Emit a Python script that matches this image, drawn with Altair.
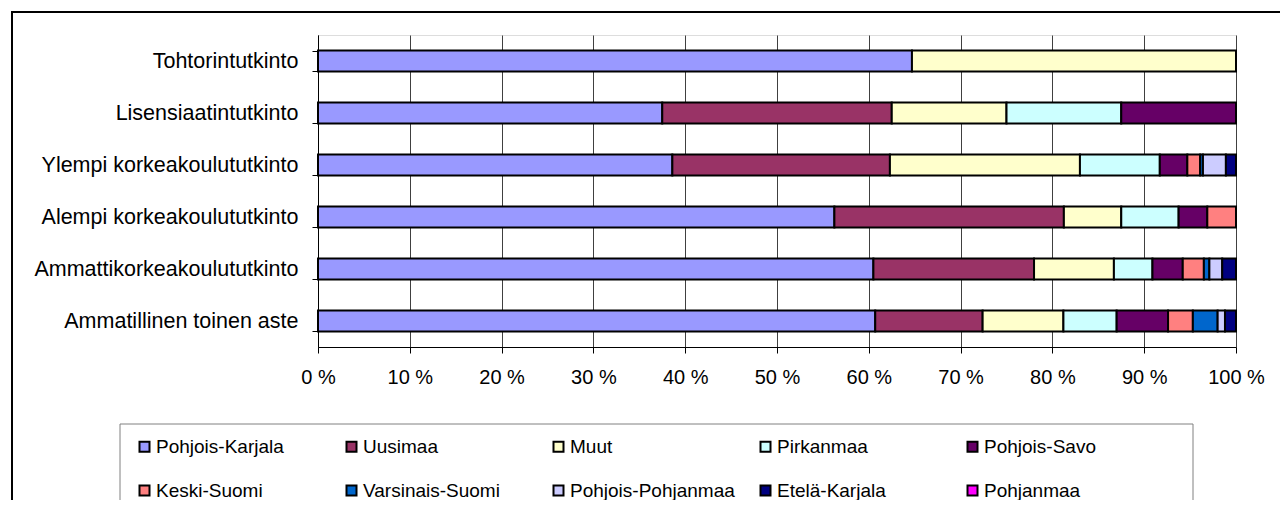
import altair as alt
import pandas as pd

categories = [
    "Tohtorintutkinto",
    "Lisensiaatintutkinto",
    "Ylempi korkeakoulututkinto",
    "Alempi korkeakoulututkinto",
    "Ammattikorkeakoulututkinto",
    "Ammatillinen toinen aste",
]

regions = [
    "Pohjois-Karjala", "Uusimaa", "Muut", "Pirkanmaa", "Pohjois-Savo",
    "Keski-Suomi", "Varsinais-Suomi", "Pohjois-Pohjanmaa", "Etelä-Karjala", "Pohjanmaa",
]

colors = ["#9999FF", "#993366", "#FFFFCC", "#CCFFFF", "#660066",
          "#FF8080", "#0066CC", "#CCCCFF", "#000080", "#FF00FF"]

# percent shares per category (order as in `categories`)
pohjois_karjala   = [64.7, 37.5, 38.6, 56.25, 60.5, 60.7]
uusimaa           = [0.0, 25.0, 23.7, 25.0, 17.5, 11.7]
muut              = [35.3, 12.5, 20.7, 6.25, 8.7, 8.8]
pirkanmaa         = [0.0, 12.5, 8.7, 6.25, 4.2, 5.8]
pohjois_savo      = [0.0, 12.5, 3.0, 3.125, 3.3, 5.6]
keski_suomi       = [0.0, 0.0, 1.4, 3.125, 2.3, 2.7]
varsinais_suomi   = [0.0, 0.0, 0.3, 0.0, 0.6, 2.7]
pohjois_pohjanmaa = [0.0, 0.0, 2.5, 0.0, 1.4, 0.8]
etela_karjala     = [0.0, 0.0, 1.1, 0.0, 1.5, 1.2]
pohjanmaa         = [0.0, 0.0, 0.0, 0.0, 0.0, 0.0]

series = [pohjois_karjala, uusimaa, muut, pirkanmaa, pohjois_savo,
          keski_suomi, varsinais_suomi, pohjois_pohjanmaa, etela_karjala, pohjanmaa]

x_ticks = [0, 0.1, 0.2, 0.3, 0.4, 0.5, 0.6, 0.7, 0.8, 0.9, 1.0]

rows = []
for ri, (reg, vals) in enumerate(zip(regions, series)):
    for cat, v in zip(categories, vals):
        if v > 0:
            rows.append({"tutkinto": cat, "alue": reg, "osuus": v, "jarj": ri})
df = pd.DataFrame(rows)

FONT = "Liberation Sans"

bars = alt.Chart(df).mark_bar(stroke="black", strokeWidth=2).encode(
    y=alt.Y("tutkinto:N", sort=categories, title=None,
            scale=alt.Scale(paddingInner=0.6, paddingOuter=0.3),
            axis=alt.Axis(tickBand="extent", tickSize=6, tickColor="black",
                          domainColor="black", labelFontSize=21.5, labelFont=FONT,
                          labelColor="black", labelPadding=14, grid=False,
                          labelLimit=400)),
    x=alt.X("osuus:Q", stack="normalize", title=None,
            scale=alt.Scale(domain=[0, 1], nice=False),
            axis=alt.Axis(values=x_ticks, labelExpr="format(datum.value*100,'d') + ' %'",
                          tickSize=6, tickColor="black", domainColor="black",
                          labelFontSize=20, labelFont=FONT, labelColor="black",
                          labelPadding=14, grid=True, gridColor="#404040",
                          gridWidth=1, labelFlush=False)),
    color=alt.Color("alue:N", scale=alt.Scale(domain=regions, range=colors),
                    legend=alt.Legend(orient="none", legendX=-183, legendY=402,
                                      columns=5, direction="horizontal", title=None,
                                      symbolType="square", symbolSize=100,
                                      symbolStrokeColor="black", symbolStrokeWidth=2,
                                      symbolOpacity=1,
                                      labelFontSize=19, labelFont=FONT, labelColor="black",
                                      labelOffset=2, columnPadding=21, rowPadding=24,
                                      gridAlign="all", padding=0, labelLimit=300)),
    order=alt.Order("jarj:Q", sort="ascending"),
)

one = alt.Data(values=[{"k": 1}])

frame = alt.Chart(one).mark_rect(fill="white", fillOpacity=0, stroke="black", strokeWidth=2).encode(
    x=alt.value(-306), x2=alt.value(2000), y=alt.value(-23), y2=alt.value(1000)
)

legend_box = alt.Chart(one).mark_rect(fill="white", stroke="#808080", strokeWidth=1).encode(
    x=alt.value(-198), x2=alt.value(875), y=alt.value(389), y2=alt.value(1000)
)

chart = alt.layer(frame, legend_box, bars).properties(
    width=918, height=312,
    autosize=alt.AutoSizeParams(type="none"),
    padding={"left": 310, "top": 27, "right": 44, "bottom": 153},
).configure_view(fill="#C0C0C0", stroke="#808080", strokeWidth=1
).configure(background="white")

chart.save("out.html", embed_options={"renderer": "svg", "actions": False})
